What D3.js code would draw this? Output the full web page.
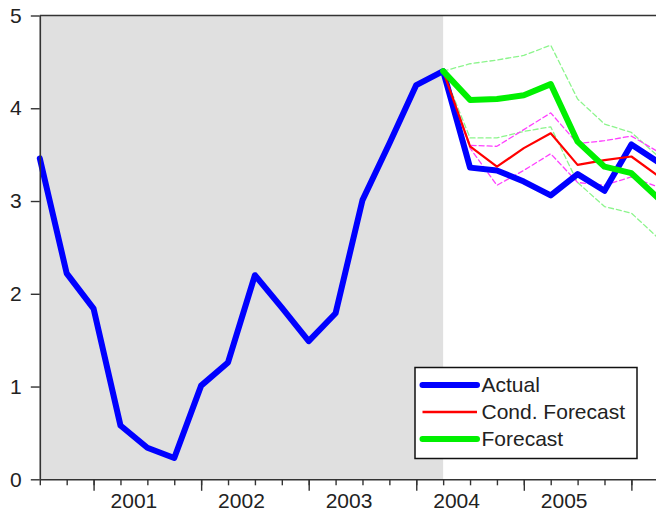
<!DOCTYPE html>
<html>
<head>
<meta charset="utf-8">
<script src="https://cdn.jsdelivr.net/npm/d3@7"></script>
<style>
  body { margin: 0; background: #fff; }
  svg { display: block; font-family: "Liberation Sans", Arial, sans-serif; }
</style>
</head>
<body>
<svg id="chart" width="656" height="515"></svg>
<script>
// quarters shown on the axis, 2000Q3 .. 2006Q2
const periods = ["2000Q3","2000Q4","2001Q1","2001Q2","2001Q3","2001Q4","2002Q1","2002Q2",
                 "2002Q3","2002Q4","2003Q1","2003Q2","2003Q3","2003Q4","2004Q1","2004Q2",
                 "2004Q3","2004Q4","2005Q1","2005Q2","2005Q3","2005Q4","2006Q1","2006Q2"]
const yearLabels = ["2001","2002","2003","2004","2005"]
const yearStarts = ["2001Q1","2002Q1","2003Q1","2004Q1","2005Q1","2006Q1"]
const sampleEnd = "2004Q2"

const actual = [3.46, 2.22, 1.84, 0.58, 0.34, 0.23, 1.01, 1.26, 2.20, 1.85, 1.49, 1.79,
                3.01, 3.62, 4.25, 4.40, 3.36, 3.33, 3.21, 3.06, 3.29, 3.11, 3.61, 3.42]

// forecast period starts at the sample end
const forecastPeriods = ["2004Q2","2004Q3","2004Q4","2005Q1","2005Q2","2005Q3","2005Q4","2006Q1","2006Q2"]
const condForecast = [4.40, 3.59, 3.37, 3.57, 3.73, 3.39, 3.44, 3.48, 3.27]
const condUpper    = [4.40, 3.60, 3.59, 3.77, 3.95, 3.62, 3.65, 3.70, 3.53]
const condLower    = [4.40, 3.57, 3.17, 3.33, 3.51, 3.20, 3.17, 3.26, 3.15]
const forecast     = [4.40, 4.09, 4.10, 4.14, 4.26, 3.64, 3.37, 3.30, 3.03]
const fcUpper      = [4.40, 4.48, 4.52, 4.57, 4.68, 4.10, 3.83, 3.74, 3.48]
const fcLower      = [4.40, 3.68, 3.68, 3.75, 3.80, 3.20, 2.94, 2.87, 2.60]

const yTicks = [0, 1, 2, 3, 4, 5]

const svg = d3.select("#chart")
const plotLeft = 39.8, plotTop = 15.5, plotBottom = 479.3
const step = 26.89

const x = d3.scalePoint()
    .domain(periods)
    .range([plotLeft, plotLeft + step * (periods.length - 1)])
const y = d3.scaleLinear().domain([0, 5]).range([plotBottom, plotTop])

// shaded sample period
svg.append("rect")
    .attr("x", plotLeft)
    .attr("y", plotTop)
    .attr("width", x(sampleEnd) - plotLeft)
    .attr("height", plotBottom - plotTop)
    .attr("fill", "#e0e0e0")

const line = d3.line()
    .x(d => x(d[0]))
    .y(d => y(d[1]))

function drawSeries(periodList, values, color, width, dash){
    svg.append("path")
        .datum(periodList.map((p, i) => [p, values[i]]))
        .attr("d", line)
        .attr("fill", "none")
        .attr("stroke", color)
        .attr("stroke-width", width)
        .attr("stroke-linejoin", "round")
        .attr("stroke-linecap", "round")
        .attr("stroke-dasharray", dash || null)
}

drawSeries(forecastPeriods, fcUpper, "#8cf58c", 1.3, "5,3")
drawSeries(forecastPeriods, fcLower, "#8cf58c", 1.3, "5,3")
drawSeries(forecastPeriods, condUpper, "#ff40ff", 1.3, "5,3")
drawSeries(forecastPeriods, condLower, "#ff40ff", 1.3, "5,3")
drawSeries(periods, actual, "#0000ff", 6)
drawSeries(forecastPeriods, condForecast, "#ff0000", 2.2)
drawSeries(forecastPeriods, forecast, "#00f000", 6)

// frame: top border
svg.append("line")
    .attr("x1", plotLeft).attr("x2", x(periods[periods.length - 1]))
    .attr("y1", plotTop).attr("y2", plotTop)
    .attr("stroke", "#333").attr("stroke-width", 1.6)

// y axis
const yAxis = svg.append("g")
    .attr("transform", "translate(" + plotLeft + ",0)")
    .call(d3.axisLeft(y).tickValues(yTicks).tickFormat(d3.format("d"))
        .tickSize(9).tickPadding(9).tickSizeOuter(0))
yAxis.select(".domain").attr("stroke", "#333").attr("stroke-width", 1.6)
yAxis.selectAll(".tick line").attr("stroke", "#333").attr("stroke-width", 1.4)
yAxis.selectAll(".tick text").attr("font-size", 21).attr("fill", "#222")
    .attr("font-family", "Liberation Sans, Arial, sans-serif")

// x axis: quarter ticks short, year starts long
const xAxis = svg.append("g")
    .attr("transform", "translate(0," + plotBottom + ")")
    .call(d3.axisBottom(x).tickValues(periods).tickSize(6).tickFormat("").tickSizeOuter(0))
xAxis.select(".domain").attr("stroke", "#333").attr("stroke-width", 1.6)
xAxis.selectAll(".tick line").attr("stroke", "#333").attr("stroke-width", 1.4)

const xAxisYears = svg.append("g")
    .attr("transform", "translate(0," + plotBottom + ")")
    .call(d3.axisBottom(x).tickValues(yearStarts).tickSize(11.5).tickFormat("").tickSizeOuter(0))
xAxisYears.select(".domain").remove()
xAxisYears.selectAll(".tick line").attr("stroke", "#333").attr("stroke-width", 1.4)

svg.append("g").selectAll("text")
    .data(yearLabels)
    .join("text")
    .attr("x", (d, i) => x(yearStarts[i]) + step * 1.5)
    .attr("y", 508)
    .attr("text-anchor", "middle")
    .attr("font-size", 21)
    .attr("fill", "#222")
    .text(d => d)

// legend
const legendItems = [
    {name: "Actual", color: "#0000ff", width: 6},
    {name: "Cond. Forecast", color: "#ff0000", width: 2.5},
    {name: "Forecast", color: "#00f000", width: 6}
]
const legend = svg.append("g")
legend.append("rect")
    .attr("x", 415).attr("y", 367.5)
    .attr("width", 222).attr("height", 91)
    .attr("fill", "#fff")
    .attr("stroke", "#111")
    .attr("stroke-width", 1.5)
const items = legend.selectAll("g.item")
    .data(legendItems)
    .join("g")
    .attr("class", "item")
    .attr("transform", (d, i) => "translate(0," + (385 + i * 27) + ")")
items.append("line")
    .attr("x1", 422.5).attr("x2", 477)
    .attr("stroke", d => d.color)
    .attr("stroke-width", d => d.width)
    .attr("stroke-linecap", d => d.width > 3 ? "round" : "butt")
items.append("text")
    .attr("x", 481.5)
    .attr("dy", "0.33em")
    .attr("font-size", 21)
    .attr("fill", "#222")
    .text(d => d.name)
</script>
</body>
</html>
